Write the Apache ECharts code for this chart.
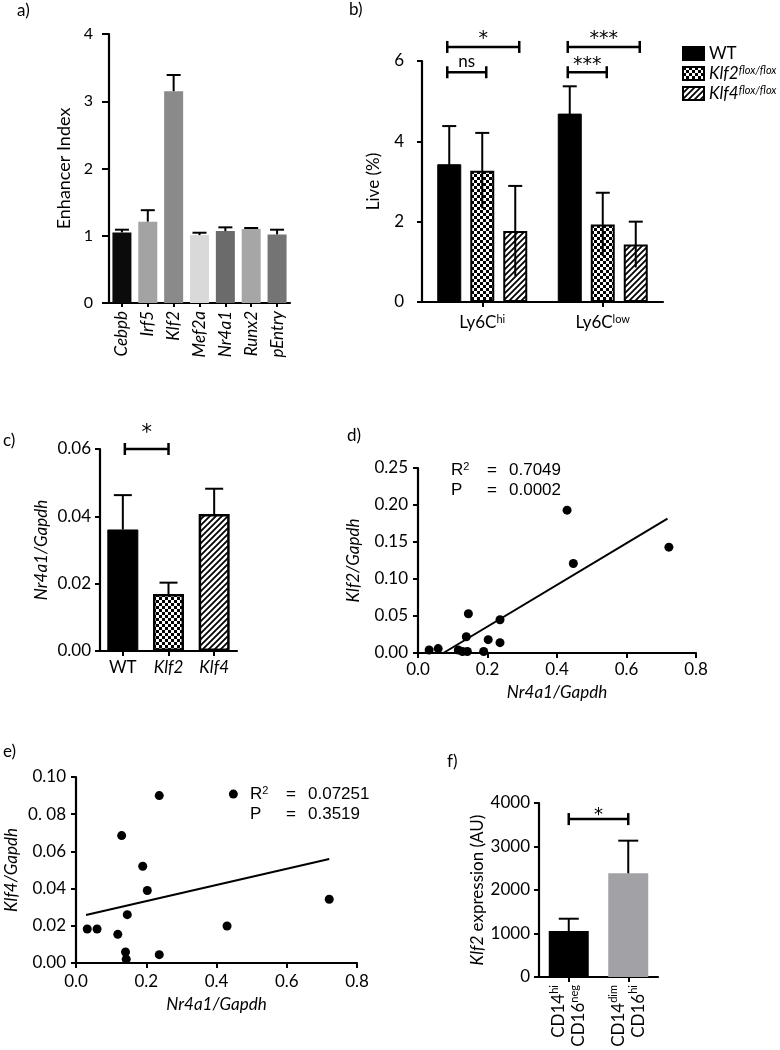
<!DOCTYPE html>
<html><head><meta charset="utf-8">
<script src="https://cdn.jsdelivr.net/npm/echarts@6/dist/echarts.min.js"></script>
<style>html,body{margin:0;padding:0;background:#fff}#c{width:780px;height:1050px}</style>
</head><body><div id="c"></div>
<script>
// ---------- DATA ----------
// Panel a
const aCategories = ['Cebpb', 'Irf5', 'Klf2', 'Mef2a', 'Nr4a1', 'Runx2', 'pEntry'];
const aValues = [1.05, 1.21, 3.15, 1.01, 1.07, 1.10, 1.02];
const aErrors = [0.04, 0.17, 0.24, 0.035, 0.055, 0.015, 0.07];
const aYTicks = [0, 1, 2, 3, 4];
// Panel b
const bCategories = ['Ly6Chi', 'Ly6Clow'];
const bCategorySup = ['hi', 'low'];
const bSeriesNames = ['WT', 'Klf2', 'Klf4'];
const bWT = [3.43, 4.69];
const bWTErr = [0.95, 0.68];
const bKlf2 = [3.27, 1.93];
const bKlf2Err = [0.94, 0.79];
const bKlf4 = [1.77, 1.43];
const bKlf4Err = [1.12, 0.57];
const bBracketCat = [0, 0, 1, 1];
const bBracketFrom = [0, 0, 0, 0];
const bBracketTo = [2, 1, 2, 1];
const bBracketY = [6.35, 5.72, 6.35, 5.72];
const bBracketText = ['*', 'ns', '***', '***'];
// Panel c
const cCategories = ['WT', 'Klf2', 'Klf4'];
const cValues = [0.0361, 0.0169, 0.0407];
const cErrors = [0.0102, 0.0034, 0.0075];
const cBracket = [0, 0.85, 0.06];
const cBracketText = '*';
// Panel d
const dX = [0.032, 0.058, 0.116, 0.128, 0.142, 0.139, 0.145, 0.189, 0.202, 0.236, 0.236, 0.429, 0.447, 0.722];
const dY = [0.004, 0.006, 0.004, 0.002, 0.002, 0.022, 0.053, 0.002, 0.018, 0.014, 0.045, 0.193, 0.121, 0.143];
const dFitX = [0.073, 0.718];
const dFitY = [0.0, 0.1815];
const dR2 = '0.7049';
const dP = '0.0002';
// Panel e
const eX = [0.032, 0.060, 0.119, 0.130, 0.141, 0.143, 0.146, 0.190, 0.203, 0.237, 0.237, 0.430, 0.448, 0.721];
const eY = [0.0183, 0.0183, 0.0154, 0.0685, 0.0059, 0.002, 0.026, 0.052, 0.039, 0.090, 0.0045, 0.0199, 0.0908, 0.0343];
const eFitX = [0.0285, 0.721];
const eFitY = [0.0258, 0.0559];
const eYTickLabels = ['0.00', '0.02', '0.04', '0.06', '0. 08', '0.10'];
const eR2 = '0.07251';
const eP = '0.3519';
// Panel f
const fCategories = ['CD14hi CD16neg', 'CD14dim CD16hi'];
const fLine1Sup = ['hi', 'dim'];
const fLine2Sup = ['neg', 'hi'];
const fValues = [1057, 2384];
const fErrors = [283, 750];
const fBracket = [0, 1, 3630];
const fBracketText = '*';

// ---------- STYLE ----------
const FONT = 'Lato, "Open Sans", sans-serif';
const ARIAL = '"Liberation Sans", Arial, sans-serif';
const STARFONT = '"DejaVu Sans", sans-serif';
const BLACK = '#000';
const aColors = ['#0b0b0b', '#a3a3a3', '#8a8a8a', '#d9d9d9', '#6b6b6b', '#a6a6a6', '#747474'];
const fColors = ['#000000', '#a2a2a6'];

function checkerCanvas() {
  const c = document.createElement('canvas'); c.width = 6; c.height = 6;
  const g = c.getContext('2d');
  g.fillStyle = '#fff'; g.fillRect(0, 0, 6, 6);
  g.fillStyle = '#000'; g.fillRect(0, 0, 3, 3); g.fillRect(3, 3, 3, 3);
  return c;
}
function hatchCanvas() {
  const s = 6; const c = document.createElement('canvas'); c.width = s; c.height = s;
  const g = c.getContext('2d');
  g.fillStyle = '#fff'; g.fillRect(0, 0, s, s);
  g.strokeStyle = '#000'; g.lineWidth = 1.8;
  g.beginPath();
  g.moveTo(0, s); g.lineTo(s, 0);
  g.moveTo(-1, 1); g.lineTo(1, -1);
  g.moveTo(s - 1, s + 1); g.lineTo(s + 1, s - 1);
  g.stroke();
  return c;
}
const CHECK = { image: checkerCanvas(), repeat: 'repeat' };
const HATCH = { image: hatchCanvas(), repeat: 'repeat' };

function valAxis(grid, min, max, interval, o) {
  return {
    type: 'value', gridIndex: grid, min, max, interval,
    axisLine: { show: true, onZero: false, lineStyle: { color: BLACK, width: 2.2 } },
    axisTick: { show: true, length: o.tickLen || 5, lineStyle: { color: BLACK, width: 2 } },
    axisLabel: { show: o.label !== false, color: BLACK, fontFamily: FONT, fontSize: o.fs || 17, margin: o.margin || 8, formatter: o.fmt || (v => String(v)), hideOverlap: false, showMinLabel: true, showMaxLabel: true },
    splitLine: { show: false },
    name: o.name, nameLocation: 'middle', nameGap: o.nameGap,
    nameTextStyle: { color: BLACK, fontFamily: FONT, fontSize: o.nameFs || 17, fontStyle: o.nameItalic ? 'italic' : 'normal', rich: o.nameRich }
  };
}
function catAxis(grid, data, o) {
  return {
    type: 'category', gridIndex: grid, data,
    axisLine: { show: true, lineStyle: { color: BLACK, width: 2.2 } },
    axisTick: { show: true, alignWithLabel: true, length: o.tickLen || 5, lineStyle: { color: BLACK, width: 2 } },
    axisLabel: { interval: 0, color: BLACK, fontFamily: FONT, fontSize: o.fs || 17, margin: o.margin || 8, rotate: o.rotate || 0, fontStyle: o.italic ? 'italic' : 'normal', formatter: o.fmt, rich: o.rich, lineHeight: o.lineHeight, hideOverlap: false },
    splitLine: { show: false }
  };
}

function errorSeries(grid, vals, errs, o) {
  return {
    type: 'custom', xAxisIndex: grid, yAxisIndex: grid, z: 5, silent: true, clip: false,
    data: vals.map((v, i) => [i, v, errs[i]]),
    renderItem(params, api) {
      const cat = api.value(0), v = api.value(1), e = api.value(2);
      const hi = api.coord([cat, v + e]);
      const lo = api.coord([cat, o.both ? v - e : v]);
      const x = hi[0] + (o.offset || 0);
      const style = { stroke: BLACK, lineWidth: 2 };
      return {
        type: 'group', children: [
          { type: 'line', shape: { x1: x, y1: lo[1], x2: x, y2: hi[1] }, style },
          { type: 'line', shape: { x1: x - o.cap / 2, y1: hi[1], x2: x + o.cap / 2, y2: hi[1] }, style }
        ]
      };
    }
  };
}

function bracketSeries(grid, data, texts, o) {
  return {
    type: 'custom', xAxisIndex: grid, yAxisIndex: grid, z: 6, silent: true, clip: false,
    data,
    renderItem(params, api) {
      const i = params.dataIndex;
      const a = api.coord([api.value(0), api.value(2)]);
      const b = api.coord([api.value(1), api.value(2)]);
      const x1 = a[0] + (o.off1 ? o.off1(i) : 0), x2 = b[0] + (o.off2 ? o.off2(i) : 0), y = a[1];
      const style = { stroke: BLACK, lineWidth: 2.5 };
      const t = texts[i];
      const isNs = t === 'ns';
      const font = isNs ? '17px ' + FONT : (o.fs || 20) + 'px ' + STARFONT;
      return {
        type: 'group', children: [
          { type: 'line', shape: { x1, y1: y, x2, y2: y }, style },
          { type: 'line', shape: { x1, y1: y - 6, x2: x1, y2: y + 6 }, style },
          { type: 'line', shape: { x1: x2, y1: y - 6, x2, y2: y + 6 }, style },
          { type: 'text', x: (x1 + x2) / 2, y: y - (isNs ? 2 : o.starGap), style: { text: t, fill: BLACK, font, align: 'center', verticalAlign: 'bottom', textAlign: 'center', textVerticalAlign: 'bottom' } }
        ]
      };
    }
  };
}

const BOFF = 33; // spacing between grouped bars in b
const bOff = s => (s - 1) * BOFF;

const supRich = (fs, sfs) => ({
  n: { fontFamily: FONT, fontSize: fs, color: BLACK },
  i: { fontFamily: FONT, fontSize: fs, fontStyle: 'italic', color: BLACK },
  s: { fontFamily: FONT, fontSize: sfs, color: BLACK, verticalAlign: 'top' },
  si: { fontFamily: FONT, fontSize: sfs, fontStyle: 'italic', color: BLACK, verticalAlign: 'top' }
});

function txt(x, y, text, font, extra) {
  return Object.assign({ type: 'text', x, y, style: { text, fill: BLACK, font, align: 'left', verticalAlign: 'middle', textAlign: 'left', textVerticalAlign: 'middle' } }, extra || {});
}
function statText(x, y, label, val) {
  const f = '17px ' + ARIAL;
  return [
    label === 'R2'
      ? { type: 'text', x, y, style: { text: '{r|R}{s|2}', fill: BLACK, align: 'left', verticalAlign: 'middle', rich: { r: { fontSize: 17, fontFamily: ARIAL }, s: { fontSize: 11, fontFamily: ARIAL, verticalAlign: 'top' } } } }
      : txt(x, y, 'P', f),
    txt(x + 36, y, '=', f),
    txt(x + 58, y, val, f)
  ];
}

const chart = echarts.init(document.getElementById('c'), null, { renderer: 'canvas' });

const option = {
  backgroundColor: '#fff',
  animation: false,
  textStyle: { fontFamily: FONT },
  grid: [
    { left: 109, top: 34, width: 181, height: 269, outerBoundsMode: 'none' },
    { left: 422, top: 61, width: 241, height: 241, outerBoundsMode: 'none' },
    { left: 100, top: 449, width: 137, height: 202, outerBoundsMode: 'none' },
    { left: 418, top: 468, width: 278, height: 185, outerBoundsMode: 'none' },
    { left: 76, top: 777, width: 281, height: 186, outerBoundsMode: 'none' },
    { left: 539, top: 803, width: 119, height: 174, outerBoundsMode: 'none' }
  ],
  xAxis: [
    catAxis(0, aCategories, { rotate: 90, italic: true, fs: 17, margin: 8, tickLen: 4 }),
    catAxis(1, bCategories, { fs: 17, margin: 12, fmt: (v, i) => '{n|Ly6C}{s|' + bCategorySup[i] + '}', rich: supRich(17, 11) }),
    catAxis(2, cCategories, { fs: 17, margin: 8, fmt: v => v === 'WT' ? '{n|WT}' : '{i|' + v + '}', rich: supRich(17, 11) }),
    valAxis(3, 0, 0.8, 0.2, { fmt: v => v.toFixed(1), margin: 8, name: 'Nr4a1/Gapdh', nameGap: 31, nameItalic: true }),
    valAxis(4, 0, 0.8, 0.2, { fmt: v => v.toFixed(1), margin: 10, name: 'Nr4a1/Gapdh', nameGap: 33, nameItalic: true }),
    catAxis(5, fCategories, { rotate: 90, fs: 17, margin: 8, lineHeight: 20, fmt: (v, i) => '{n|CD14}{s|' + fLine1Sup[i] + '}\n{n|CD16}{s|' + fLine2Sup[i] + '}', rich: supRich(17, 11) })
  ],
  yAxis: [
    valAxis(0, aYTicks[0], aYTicks[aYTicks.length - 1], 1, { fs: 16, margin: 16, tickLen: 7, name: 'Enhancer Index', nameGap: 36, nameFs: 18 }),
    valAxis(1, 0, 6, 2, { fs: 17, margin: 18, name: 'Live (%)', nameGap: 40 }),
    valAxis(2, 0, 0.06, 0.02, { fmt: v => v.toFixed(2), margin: 9, name: 'Nr4a1/Gapdh', nameGap: 50, nameItalic: true }),
    valAxis(3, 0, 0.25, 0.05, { fmt: v => v.toFixed(2), margin: 10, name: 'Klf2/Gapdh', nameGap: 56, nameItalic: true }),
    valAxis(4, 0, 0.1, 0.02, { fmt: v => eYTickLabels[Math.round(v / 0.02)], margin: 10, name: 'Klf4/Gapdh', nameGap: 56, nameItalic: true }),
    valAxis(5, 0, 4000, 1000, { fmt: v => String(v), margin: 9, name: '{i|Klf2} expression (AU)', nameGap: 53, nameRich: supRich(17, 11) })
  ],
  legend: {
    left: 677, top: 40, orient: 'vertical', itemWidth: 21, itemHeight: 13, itemGap: 3, icon: 'rect',
    data: bSeriesNames,
    formatter: n => n === 'WT' ? '{n|WT}' : '{i|' + n + '}{si|flox/flox}',
    textStyle: { color: BLACK, fontFamily: FONT, fontSize: 17, rich: supRich(17, 11) }
  },
  series: [
    // a
    { type: 'bar', xAxisIndex: 0, yAxisIndex: 0, barWidth: 19, silent: true,
      data: aValues.map((v, i) => ({ value: v, itemStyle: { color: aColors[i] } })) },
    errorSeries(0, aValues, aErrors, { cap: 14 }),
    // b
    { type: 'bar', name: 'WT', xAxisIndex: 1, yAxisIndex: 1, barWidth: 24, barGap: '37.5%', data: bWT,
      itemStyle: { color: BLACK, borderColor: BLACK, borderWidth: 1 } },
    { type: 'bar', name: 'Klf2', xAxisIndex: 1, yAxisIndex: 1, barWidth: 24, barGap: '37.5%', data: bKlf2,
      itemStyle: { color: CHECK, borderColor: BLACK, borderWidth: 2 } },
    { type: 'bar', name: 'Klf4', xAxisIndex: 1, yAxisIndex: 1, barWidth: 24, barGap: '37.5%', data: bKlf4,
      itemStyle: { color: HATCH, borderColor: BLACK, borderWidth: 2 } },
    errorSeries(1, bWT, bWTErr, { cap: 14, both: true, offset: bOff(0) }),
    errorSeries(1, bKlf2, bKlf2Err, { cap: 14, both: true, offset: bOff(1) }),
    errorSeries(1, bKlf4, bKlf4Err, { cap: 14, both: true, offset: bOff(2) }),
    bracketSeries(1, bBracketY.map((y, i) => [bBracketCat[i], bBracketCat[i], y]), bBracketText,
      { off1: i => bOff(bBracketFrom[i]) - 2, off2: i => bOff(bBracketTo[i]) + 4, starGap: -2, fs: 19 }),
    // c
    { type: 'bar', xAxisIndex: 2, yAxisIndex: 2, barWidth: 31, silent: true,
      data: cValues.map((v, i) => ({ value: v, itemStyle: { color: [BLACK, CHECK, HATCH][i], borderColor: BLACK, borderWidth: i === 0 ? 1 : 2.5 } })) },
    errorSeries(2, cValues, cErrors, { cap: 18 }),
    bracketSeries(2, [cBracket], [cBracketText], { off1: () => 2, starGap: 5, fs: 21 }),
    // d
    { type: 'scatter', xAxisIndex: 3, yAxisIndex: 3, symbolSize: 9, clip: false, itemStyle: { color: BLACK, opacity: 1 },
      data: dX.map((x, i) => [x, dY[i]]) },
    { type: 'line', xAxisIndex: 3, yAxisIndex: 3, showSymbol: false, lineStyle: { color: BLACK, width: 2 },
      data: dFitX.map((x, i) => [x, dFitY[i]]) },
    // e
    { type: 'scatter', xAxisIndex: 4, yAxisIndex: 4, symbolSize: 9, clip: false, itemStyle: { color: BLACK, opacity: 1 },
      data: eX.map((x, i) => [x, eY[i]]) },
    { type: 'line', xAxisIndex: 4, yAxisIndex: 4, showSymbol: false, lineStyle: { color: BLACK, width: 2 },
      data: eFitX.map((x, i) => [x, eFitY[i]]) },
    // f
    { type: 'bar', xAxisIndex: 5, yAxisIndex: 5, barWidth: 40, silent: true,
      data: fValues.map((v, i) => ({ value: v, itemStyle: { color: fColors[i] } })) },
    errorSeries(5, fValues, fErrors, { cap: 20 }),
    bracketSeries(5, [fBracket], [fBracketText], { starGap: -5, fs: 18 })
  ],
  graphic: [
    txt(17, 11, 'a)', '17px ' + FONT),
    txt(349, 10, 'b)', '17px ' + FONT),
    txt(3, 441, 'c)', '17px ' + FONT),
    txt(347, 436, 'd)', '17px ' + FONT),
    txt(3, 752, 'e)', '17px ' + FONT),
    txt(447, 762, 'f)', '17px ' + FONT),
    ...statText(451, 470, 'R2', dR2),
    ...statText(451, 490, 'P', dP),
    ...statText(250, 794, 'R2', eR2),
    ...statText(250, 814, 'P', eP)
  ]
};
chart.setOption(option);
</script></body></html>
